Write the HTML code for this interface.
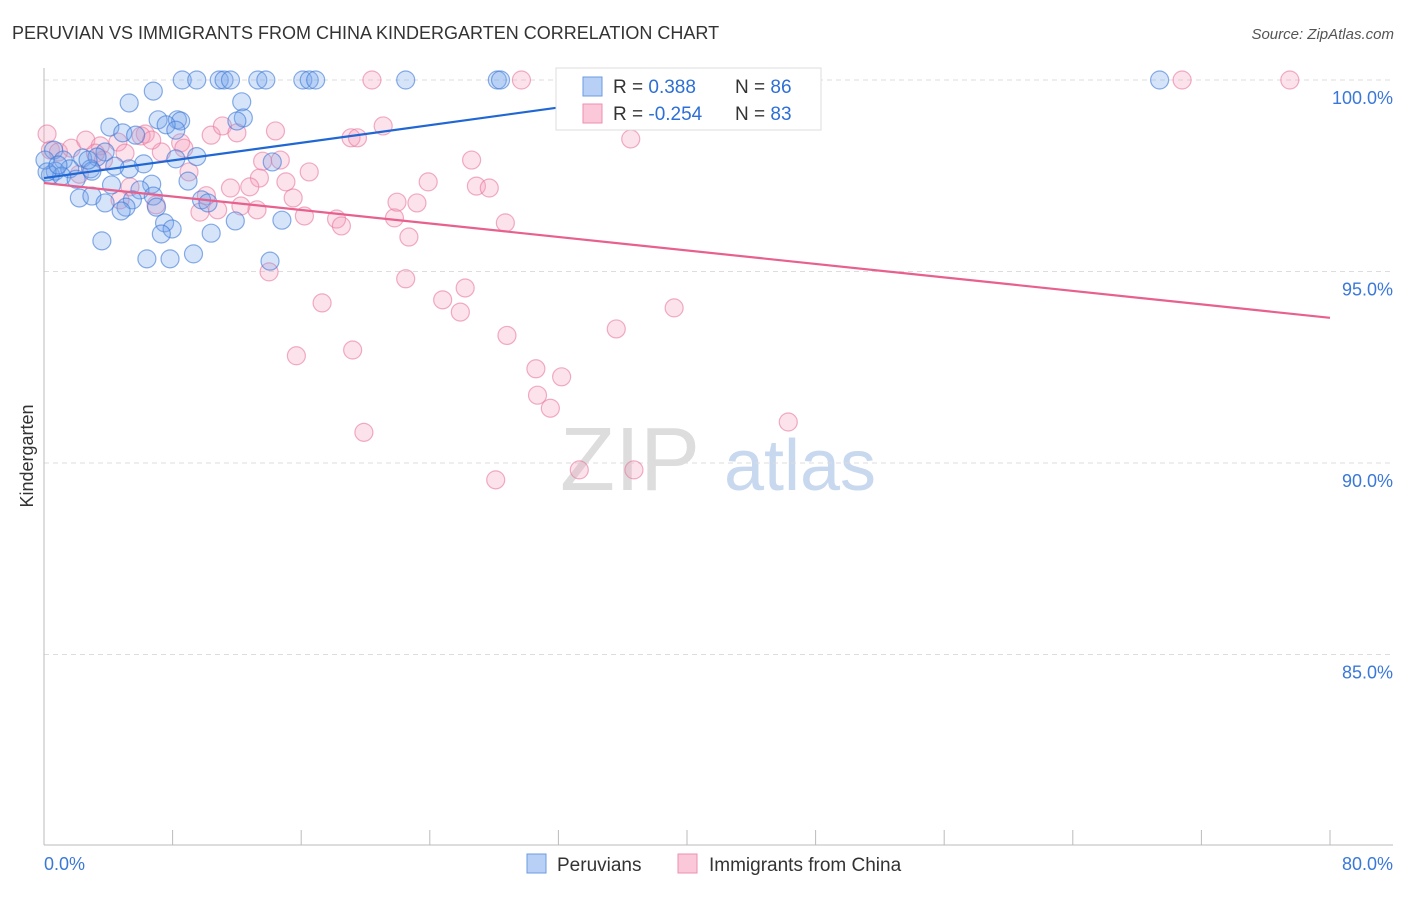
<!DOCTYPE html>
<html><head><meta charset="utf-8"><style>
body{margin:0;background:#fff;font-family:"Liberation Sans",sans-serif}
svg text{font-family:"Liberation Sans",sans-serif}
</style></head><body>
<svg id="chart" width="1406" height="892" xmlns="http://www.w3.org/2000/svg">
<text x="12" y="39" font-size="18" fill="#333">PERUVIAN VS IMMIGRANTS FROM CHINA KINDERGARTEN CORRELATION CHART</text>
<text x="1394" y="39" font-size="15" fill="#555" font-style="italic" text-anchor="end">Source: ZipAtlas.com</text>
<text x="33" y="456" font-size="18" fill="#333" transform="rotate(-90 33 456)" text-anchor="middle">Kindergarten</text>
<text x="630" y="490" font-size="90" fill="#ddd" font-family="Liberation Serif" text-anchor="middle">ZIP</text>
<text x="800" y="490" font-size="72" fill="#c8d8ef" text-anchor="middle">atlas</text>
<g id="grid"></g><g id="axes"></g><g id="pts"></g><g id="lines"></g>
<g>
<rect x="556" y="68" width="265" height="62" fill="#fff" stroke="#ddd"/>
<rect x="583" y="77" width="19" height="19" fill="#b8d0f5" stroke="#6a9be0"/>
<rect x="583" y="104" width="19" height="19" fill="#fac8d8" stroke="#ec8fb0"/>
<text x="613" y="93" font-size="19" fill="#333">R = <tspan fill="#2d6fd6"> 0.388</tspan><tspan x="735">N = </tspan><tspan fill="#2d6fd6">86</tspan></text>
<text x="613" y="120" font-size="19" fill="#333">R = <tspan fill="#2d6fd6">-0.254</tspan><tspan x="735">N = </tspan><tspan fill="#2d6fd6">83</tspan></text>
</g>
<g>
<rect x="527" y="854" width="19" height="19" fill="#b8d0f5" stroke="#6a9be0"/>
<text x="557" y="871" font-size="19" fill="#333">Peruvians</text>
<rect x="678" y="854" width="19" height="19" fill="#fac8d8" stroke="#ec8fb0"/>
<text x="709" y="871" font-size="19" fill="#333">Immigrants from China</text>
</g>
</svg>
<script>
const yTicks=[100,95,90,85];
const xTickVals=[0,8,16,24,32,40,48,56,64,72,80];
const blueX=[8.6,9.5,10.9,11.2,11.6,13.3,13.8,16.1,16.5,16.9,22.5,28.2,28.4,69.4,6.8,5.3,12.3,7.1,8.3,8.5,12.4,12.0,4.1,4.9,7.6,8.2,5.7,0.6,3.8,2.4,3.3,9.5,8.2,1.2,6.2,5.3,4.4,2.9,0.7,1.6,0.4,1.1,2.98,2.0,8.96,6.7,4.2,5.97,6.8,2.2,2.98,3.8,5.5,9.8,10.2,5.1,4.8,7.0,14.2,7.5,7.97,7.3,10.4,11.9,14.8,3.6,6.4,7.84,9.3,14.06,0.06,0.19,0.87,2.74];
const blueY=[100,100,100,100,100,100,100,100,100,100,100,100,100,100,99.71,99.4,99.43,98.96,98.96,98.93,99.01,98.93,98.77,98.62,98.83,98.69,98.56,98.17,98.12,97.96,97.99,98.0,97.94,97.91,97.81,97.68,97.75,97.68,97.62,97.68,97.52,97.49,97.62,97.41,97.36,97.28,97.26,97.13,96.97,96.92,96.97,96.79,96.87,96.87,96.79,96.68,96.58,96.68,97.86,96.27,96.11,95.98,96.0,96.32,96.34,95.8,95.33,95.33,95.46,95.27,97.91,97.6,97.78,97.91];
const pinkX=[20.4,29.7,33.0,70.8,77.5,0.4,0.9,1.7,2.6,3.5,4.6,3.7,5.04,6.3,7.3,8.5,8.7,10.4,11.1,12.0,14.4,19.1,19.5,21.1,36.5,13.6,14.7,16.5,13.4,12.8,15.05,11.6,15.5,9.02,10.1,9.7,10.8,12.25,13.25,16.2,18.2,18.5,21.8,21.96,23.2,23.9,26.6,26.9,27.7,28.7,22.7,14.0,22.5,17.3,24.8,25.9,26.2,39.2,35.6,28.8,15.7,19.2,30.6,32.2,30.7,31.5,19.9,46.3,33.3,36.7,28.1,6.04,6.7,3.2,2.2,5.35,6.97,4.73,0.19];
const pinkY=[100,100,100,100,100,98.17,98.12,98.22,98.43,98.28,98.38,97.91,98.09,98.59,98.12,98.36,98.22,98.56,98.8,98.62,98.67,98.49,98.49,98.8,98.46,97.88,97.91,97.6,97.44,97.21,97.34,97.18,96.92,97.6,96.98,96.55,96.61,96.71,96.61,96.45,96.37,96.19,96.4,96.81,96.79,97.34,97.91,97.23,97.18,96.27,95.9,94.99,94.81,94.18,94.26,93.94,94.57,94.05,93.5,93.33,92.8,92.95,92.46,92.25,91.77,91.43,90.8,91.07,89.82,89.82,89.56,98.54,98.43,98.09,97.54,97.21,96.74,96.87,98.59];
const blueTrend=[[0,97.44],[44.5,100]];
const pinkTrend=[[0,97.31],[80,93.79]];
const X0=44,XS=16.075,Y100=80,YS=38.3;
const sx=v=>X0+v*XS, sy=v=>Y100+(100-v)*YS;
const NS="http://www.w3.org/2000/svg";
function mk(tag,attrs,parent){const e=document.createElementNS(NS,tag);for(const k in attrs)e.setAttribute(k,attrs[k]);document.getElementById(parent).appendChild(e);return e;}
yTicks.forEach(t=>{
 const l=mk('line',{x1:44,x2:1393,y1:sy(t),y2:sy(t),stroke:'#ddd','stroke-dasharray':'5,4'},'grid');
 
 
 const tx=mk('text',{x:1393,y:sy(t)+24,'font-size':18,fill:'#3a78d8','text-anchor':'end'},'grid');
 tx.textContent=t.toFixed(1)+'%';
 
 
});
const ax=mk('line',{x1:44,x2:44,y1:68,y2:845,stroke:'#bbb'},'axes');


const bx=mk('line',{x1:44,x2:1393,y1:845,y2:845,stroke:'#bbb'},'axes');


xTickVals.forEach(t=>{
 const l=mk('line',{x1:sx(t),x2:sx(t),y1:830,y2:845,stroke:'#bbb'},'axes');
 
 
});
[[0,'start'],[80,'end']].forEach(([v,a])=>{
 const tx=mk('text',{x:v===0?44:1393,y:870,'font-size':18,fill:'#3a78d8','text-anchor':a},'axes');
 tx.textContent=v.toFixed(1)+'%';
 
 
});
pinkX.forEach((v,i)=>{
 const c=mk('circle',{cx:sx(v),cy:sy(pinkY[i]),r:9,fill:'rgba(245,160,190,0.3)',stroke:'rgba(232,120,160,0.6)','stroke-width':1.2},'pts');
 
 
});
blueX.forEach((v,i)=>{
 const c=mk('circle',{cx:sx(v),cy:sy(blueY[i]),r:9,fill:'rgba(120,165,235,0.3)',stroke:'rgba(60,120,215,0.6)','stroke-width':1.2},'pts');
 
 
});
const bl=mk('line',{x1:sx(blueTrend[0][0]),y1:sy(blueTrend[0][1]),x2:sx(blueTrend[1][0]),y2:sy(blueTrend[1][1]),stroke:'#2067d4','stroke-width':2.2},'lines');


const pl=mk('line',{x1:sx(pinkTrend[0][0]),y1:sy(pinkTrend[0][1]),x2:sx(pinkTrend[1][0]),y2:sy(pinkTrend[1][1]),stroke:'#e8608e','stroke-width':2.2},'lines');


</script>
</body></html>
